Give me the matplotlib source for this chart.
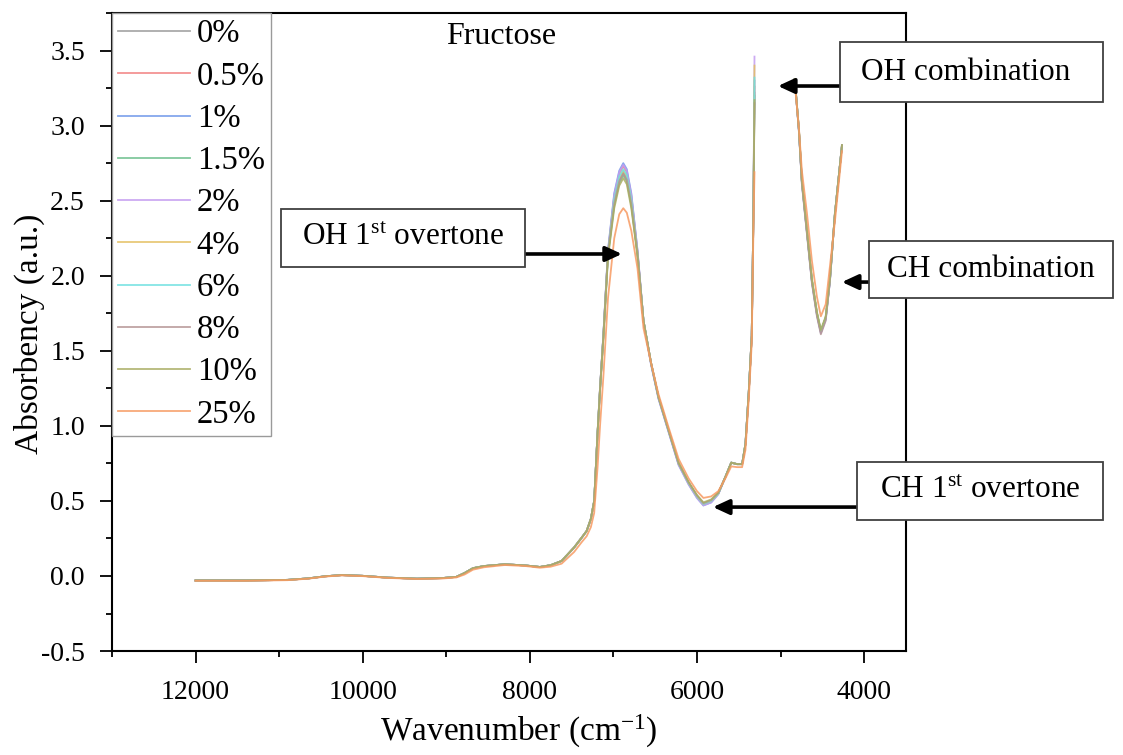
import numpy as np
import matplotlib.pyplot as plt
from matplotlib.ticker import MultipleLocator, FormatStrFormatter
from matplotlib.patches import Rectangle

nan = np.nan

# NIR spectra of fructose solutions, wavenumber in cm-1 (gap = saturated water band)
wavenumber = [12000, 11400, 10900, 10650, 10450, 10250, 10000, 9700, 9350, 9050,
              8880, 8780, 8680, 8550, 8300, 8050, 7880, 7750, 7620, 7470,
              7380, 7320, 7270, 7230, 7190, 7160, 7120, 7065, 6990, 6930,
              6882, 6840, 6786, 6712, 6640, 6550, 6460, 6340, 6220, 6100,
              6000, 5923, 5830, 5745, 5660, 5590, 5520, 5460, 5420, 5380,
              5345, 5325, 5312, 5000, 4830, 4780, 4745, 4685, 4625, 4565,
              4518, 4460, 4410, 4350, 4265]

abs_0 = [-0.030, -0.030, -0.026, -0.016, -0.002, 0.006, 0.001, -0.011, -0.018, -0.014,
         -0.006, 0.020, 0.052, 0.066, 0.078, 0.070, 0.060, 0.072, 0.100, 0.190,
         0.255, 0.300, 0.380, 0.500, 0.950, 1.250, 1.600, 2.150, 2.490, 2.640,
         2.690, 2.650, 2.490, 2.150, 1.700, 1.420, 1.190, 0.970, 0.750, 0.620,
         0.530, 0.480, 0.500, 0.550, 0.660, 0.755, 0.745, 0.745, 0.880, 1.230,
         1.600, 2.400, 3.220, nan, 3.310, 2.970, 2.630, 2.300, 1.970, 1.750,
         1.630, 1.720, 1.970, 2.410, 2.870]

abs_05 = [-0.030, -0.030, -0.026, -0.016, -0.002, 0.006, 0.001, -0.011, -0.018, -0.014,
          -0.006, 0.020, 0.052, 0.066, 0.078, 0.070, 0.060, 0.072, 0.100, 0.190,
          0.255, 0.300, 0.380, 0.500, 0.950, 1.250, 1.600, 2.150, 2.530, 2.680,
          2.730, 2.690, 2.530, 2.160, 1.700, 1.420, 1.190, 0.970, 0.750, 0.620,
          0.530, 0.480, 0.500, 0.550, 0.660, 0.755, 0.745, 0.745, 0.880, 1.230,
          1.600, 2.400, 3.260, nan, 3.310, 2.970, 2.630, 2.300, 1.970, 1.750,
          1.630, 1.720, 1.970, 2.410, 2.870]

abs_1 = [-0.030, -0.030, -0.026, -0.016, -0.002, 0.006, 0.001, -0.011, -0.018, -0.014,
         -0.006, 0.020, 0.052, 0.066, 0.078, 0.070, 0.060, 0.072, 0.100, 0.190,
         0.255, 0.300, 0.380, 0.500, 0.950, 1.250, 1.610, 2.170, 2.550, 2.700,
         2.750, 2.710, 2.550, 2.170, 1.700, 1.410, 1.180, 0.960, 0.740, 0.610,
         0.520, 0.470, 0.490, 0.545, 0.660, 0.755, 0.745, 0.745, 0.880, 1.230,
         1.600, 2.400, 3.300, nan, 3.310, 2.960, 2.620, 2.290, 1.960, 1.740,
         1.620, 1.710, 1.960, 2.410, 2.870]

abs_15 = [-0.030, -0.030, -0.026, -0.016, -0.002, 0.006, 0.001, -0.011, -0.018, -0.014,
          -0.006, 0.020, 0.052, 0.066, 0.078, 0.070, 0.060, 0.072, 0.100, 0.190,
          0.255, 0.300, 0.380, 0.500, 0.950, 1.240, 1.590, 2.130, 2.470, 2.620,
          2.670, 2.630, 2.470, 2.140, 1.700, 1.420, 1.190, 0.970, 0.750, 0.620,
          0.530, 0.480, 0.500, 0.550, 0.660, 0.755, 0.745, 0.745, 0.880, 1.230,
          1.600, 2.400, 3.200, nan, 3.310, 2.970, 2.630, 2.300, 1.970, 1.750,
          1.630, 1.720, 1.970, 2.410, 2.870]

abs_2 = [-0.030, -0.030, -0.026, -0.016, -0.002, 0.006, 0.001, -0.011, -0.018, -0.014,
         -0.006, 0.020, 0.052, 0.066, 0.078, 0.070, 0.060, 0.072, 0.100, 0.190,
         0.255, 0.300, 0.380, 0.500, 0.950, 1.250, 1.610, 2.160, 2.540, 2.690,
         2.740, 2.700, 2.540, 2.170, 1.700, 1.410, 1.180, 0.960, 0.740, 0.610,
         0.520, 0.470, 0.490, 0.545, 0.660, 0.755, 0.745, 0.745, 0.880, 1.230,
         1.600, 2.400, 3.460, nan, 3.310, 2.960, 2.620, 2.290, 1.960, 1.740,
         1.620, 1.710, 1.960, 2.410, 2.870]

abs_4 = [-0.030, -0.030, -0.026, -0.016, -0.002, 0.006, 0.001, -0.011, -0.018, -0.014,
         -0.006, 0.020, 0.052, 0.066, 0.078, 0.070, 0.060, 0.072, 0.100, 0.190,
         0.255, 0.300, 0.380, 0.500, 0.950, 1.250, 1.600, 2.150, 2.500, 2.650,
         2.700, 2.660, 2.500, 2.150, 1.700, 1.420, 1.190, 0.970, 0.750, 0.620,
         0.530, 0.480, 0.500, 0.550, 0.660, 0.755, 0.745, 0.745, 0.880, 1.230,
         1.600, 2.400, 3.400, nan, 3.310, 2.970, 2.630, 2.300, 1.970, 1.750,
         1.630, 1.720, 1.970, 2.410, 2.870]

abs_6 = [-0.030, -0.030, -0.026, -0.016, -0.002, 0.006, 0.001, -0.011, -0.018, -0.014,
         -0.006, 0.020, 0.052, 0.066, 0.078, 0.070, 0.060, 0.072, 0.100, 0.190,
         0.255, 0.300, 0.380, 0.500, 0.950, 1.250, 1.600, 2.150, 2.510, 2.660,
         2.710, 2.670, 2.510, 2.150, 1.700, 1.420, 1.190, 0.970, 0.750, 0.620,
         0.530, 0.480, 0.500, 0.550, 0.660, 0.755, 0.745, 0.745, 0.880, 1.230,
         1.600, 2.400, 3.320, nan, 3.310, 2.970, 2.630, 2.300, 1.970, 1.750,
         1.630, 1.720, 1.970, 2.410, 2.870]

abs_8 = [-0.030, -0.030, -0.026, -0.016, -0.002, 0.006, 0.001, -0.011, -0.018, -0.014,
         -0.006, 0.020, 0.052, 0.066, 0.078, 0.070, 0.060, 0.072, 0.100, 0.190,
         0.255, 0.300, 0.380, 0.500, 0.950, 1.250, 1.600, 2.150, 2.480, 2.630,
         2.680, 2.640, 2.480, 2.150, 1.700, 1.420, 1.190, 0.970, 0.750, 0.625,
         0.535, 0.485, 0.505, 0.555, 0.660, 0.755, 0.745, 0.745, 0.880, 1.230,
         1.600, 2.400, 3.150, nan, 3.310, 2.960, 2.610, 2.280, 1.950, 1.730,
         1.610, 1.700, 1.960, 2.410, 2.870]

abs_10 = [-0.030, -0.030, -0.026, -0.016, -0.002, 0.006, 0.001, -0.011, -0.018, -0.014,
          -0.006, 0.020, 0.052, 0.066, 0.078, 0.070, 0.060, 0.072, 0.100, 0.190,
          0.255, 0.300, 0.380, 0.500, 0.950, 1.240, 1.580, 2.120, 2.450, 2.600,
          2.650, 2.610, 2.450, 2.130, 1.700, 1.420, 1.190, 0.970, 0.755, 0.625,
          0.540, 0.490, 0.510, 0.555, 0.660, 0.755, 0.745, 0.745, 0.880, 1.230,
          1.600, 2.400, 3.170, nan, 3.310, 2.970, 2.640, 2.310, 1.980, 1.760,
          1.640, 1.730, 1.980, 2.410, 2.870]

abs_25 = [-0.032, -0.032, -0.028, -0.018, -0.004, 0.004, -0.001, -0.013, -0.020, -0.017,
          -0.010, 0.010, 0.042, 0.058, 0.073, 0.066, 0.055, 0.062, 0.082, 0.160,
          0.225, 0.265, 0.325, 0.420, 0.720, 1.000, 1.330, 1.850, 2.250, 2.410,
          2.450, 2.420, 2.300, 2.050, 1.650, 1.420, 1.210, 0.990, 0.780, 0.650,
          0.565, 0.520, 0.530, 0.565, 0.650, 0.730, 0.725, 0.725, 0.840, 1.180,
          1.550, 2.300, 2.690, nan, 3.280, 2.980, 2.700, 2.420, 2.100, 1.860,
          1.730, 1.810, 2.060, 2.360, 2.830]

series = [abs_0, abs_05, abs_1, abs_15, abs_2, abs_4, abs_6, abs_8, abs_10, abs_25]
labels = ['0%', '0.5%', '1%', '1.5%', '2%', '4%', '6%', '8%', '10%', '25%']
colors = ['#9c9c9c', '#f28080', '#6f98ea', '#6cbf8c', '#c49cf0',
          '#e4c062', '#6fe0e0', '#b49494', '#a9ad62', '#f79a62']

plt.rcParams['font.family'] = ['Liberation Serif', 'DejaVu Serif']
plt.rcParams['mathtext.default'] = 'regular'
plt.rcParams['axes.unicode_minus'] = False

fig = plt.figure(figsize=(11.23, 7.55), dpi=100)
ax = fig.add_axes([0.0997, 0.1377, 0.7070, 0.8450])

for s, lab, c in zip(series, labels, colors):
    ax.plot(wavenumber, s, color=c, lw=1.3, alpha=0.85, label=lab)

ax.set_xlim(13000, 3500)
ax.set_ylim(-0.5, 3.75)
ax.xaxis.set_major_locator(MultipleLocator(2000))
ax.xaxis.set_minor_locator(MultipleLocator(1000))
ax.yaxis.set_major_locator(MultipleLocator(0.5))
ax.yaxis.set_minor_locator(MultipleLocator(0.25))
ax.yaxis.set_major_formatter(FormatStrFormatter('%.1f'))
ax.tick_params(which='both', direction='out', top=False, right=False,
               labelsize=20, width=1.3)
ax.tick_params(which='major', length=8.5)
ax.tick_params(which='minor', length=4)
ax.tick_params(axis='y', pad=11)
ax.tick_params(axis='x', pad=12)
for sp in ax.spines.values():
    sp.set_linewidth(1.5)

ax.set_ylabel('Absorbency (a.u.)', fontsize=24)
ax.yaxis.set_label_coords(-0.084, 0.497)
ax.set_xlabel('Wavenumber (cm$^{-1}$)', fontsize=24)
ax.xaxis.set_label_coords(0.513, -0.097)

ax.text(0.49, 0.964, 'Fructose', transform=ax.transAxes,
        ha='center', va='center', fontsize=23)

leg = ax.legend(loc='upper left', borderaxespad=0, fontsize=23.5, fancybox=False,
                edgecolor='#9a9a9a', framealpha=1, handlelength=2.2,
                handletextpad=0.22, labelspacing=0.36, borderpad=0.18)
leg.get_frame().set_linewidth(1.0)

# arrows point at the bands (data coords), labels sit in boxes in figure space
arrow_style = dict(arrowstyle='-|>,head_length=0.65,head_width=0.3',
                   mutation_scale=15, lw=2.6, color='black',
                   shrinkA=0, shrinkB=0)
arrows = [((5031, 3.264), (4266, 3.264)),
          ((6898, 2.145), (8058, 2.145)),
          ((4266, 1.958), (3787, 1.958)),
          ((5809, 0.459), (4086, 0.459))]
for tip, tail in arrows:
    ax.annotate('', xy=tip, xytext=tail, arrowprops=arrow_style,
                annotation_clip=False)

boxes = [('OH combination', (0.748, 0.8649, 0.2342, 0.0795), (0.8600, 0.9046)),
         ('OH 1$^{st}$ overtone', (0.2502, 0.6464, 0.2173, 0.0768), (0.3589, 0.6848)),
         ('CH combination', (0.7738, 0.6053, 0.2173, 0.0755), (0.8825, 0.6430)),
         ('CH 1$^{st}$ overtone', (0.7631, 0.3113, 0.2191, 0.0768), (0.8727, 0.3497))]
for txt, (x0, y0, w, h), (tx, ty) in boxes:
    fig.add_artist(Rectangle((x0, y0), w, h, transform=fig.transFigure,
                             facecolor='white', edgecolor='#404040', lw=1.3,
                             zorder=3))
    fig.text(tx, ty, txt, ha='center', va='center', fontsize=22.5, zorder=4)

fig.savefig('out.png', dpi=100)
